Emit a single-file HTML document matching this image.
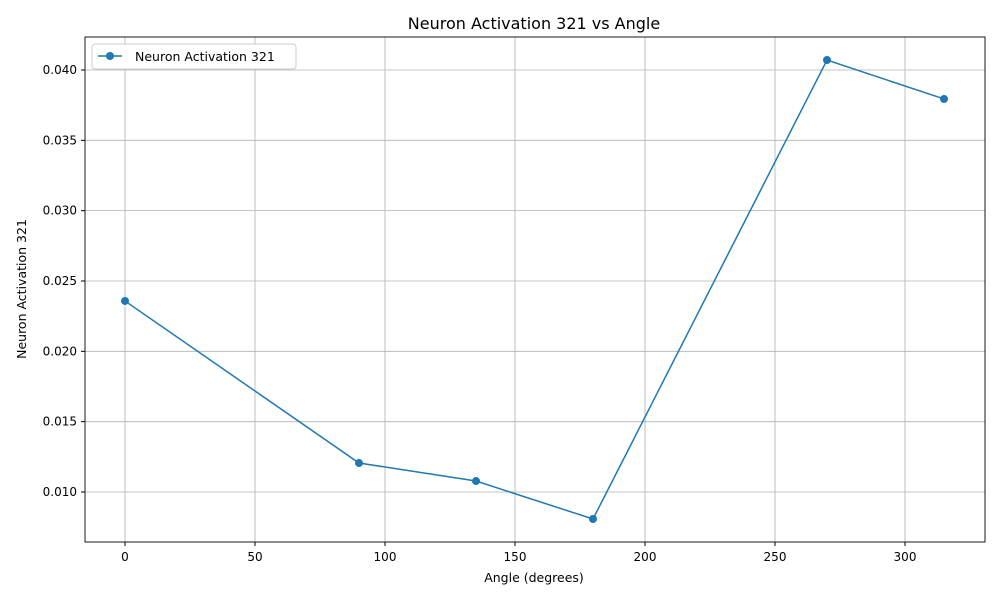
<!DOCTYPE html>
<html><head><meta charset="utf-8"><style>
body{margin:0;background:#fff;font-family:"Liberation Sans","DejaVu Sans",sans-serif}
svg text{font-family:"DejaVu Sans","Liberation Sans",sans-serif}
</style></head><body>
<svg id="chart" width="1000" height="600" xmlns="http://www.w3.org/2000/svg">
<rect width="1000" height="600" fill="#fff"/>
<text x="534" y="29" font-size="16" text-anchor="middle">Neuron Activation 321 vs Angle</text>
<text x="534" y="582" font-size="12.5" text-anchor="middle">Angle (degrees)</text>
<text transform="translate(26,289) rotate(-90)" font-size="12.5" text-anchor="middle">Neuron Activation 321</text>
<g id="grid"></g><g id="ticks"></g><g id="series"></g>
<rect x="85" y="37" width="900" height="505" fill="none" stroke="#000" stroke-width="0.9"/>
<g>
<rect x="92" y="44" width="204" height="25" rx="3" fill="#fff" stroke="#ccc"/>
<line x1="98" y1="56" x2="122" y2="56" stroke="#1f77b4" stroke-width="1.5"/>
<circle cx="110" cy="56" r="4" fill="#1f77b4"/>
<text x="135" y="61" font-size="12.5">Neuron Activation 321</text>
</g>
</svg>
<script>
const angles=[0,90,135,180,270,315];
const activations=[0.02358,0.01206,0.01078,0.00808,0.04071,0.03794];
const xTicks=[0,50,100,150,200,250,300];
const yTicks=[0.010,0.015,0.020,0.025,0.030,0.035,0.040];
const yLabels=["0.010","0.015","0.020","0.025","0.030","0.035","0.040"];
const NS="http://www.w3.org/2000/svg";
function xs(v){return 125+v*2.6;}
function ys(v){return 492-(v-0.010)*14067;}
const grid=document.getElementById('grid'),ticks=document.getElementById('ticks'),series=document.getElementById('series');
function mk(tag,attrs,parent){const e=document.createElementNS(NS,tag);for(const k in attrs)e.setAttribute(k,attrs[k]);parent.appendChild(e);return e;}
xTicks.forEach(t=>{const x=xs(t);
const g=mk('line',{x1:x,x2:x,y1:37,y2:542,stroke:'#b0b0b0','stroke-width':0.8},grid);


mk('line',{x1:x,x2:x,y1:542,y2:546,stroke:'#000'},ticks);
const l=mk('text',{x:x,y:561,'font-size':12,'text-anchor':'middle'},ticks);l.textContent=t;

});
yTicks.forEach((t,i)=>{const y=ys(t);
const g=mk('line',{x1:85,x2:985,y1:y,y2:y,stroke:'#b0b0b0','stroke-width':0.8},grid);


mk('line',{x1:81,x2:85,y1:y,y2:y,stroke:'#000'},ticks);
const l=mk('text',{x:77,y:y+4,'font-size':12,'text-anchor':'end'},ticks);l.textContent=yLabels[i];

});
const pl=mk('polyline',{points:angles.map((a,i)=>xs(a)+','+ys(activations[i])).join(' '),fill:'none',stroke:'#1f77b4','stroke-width':1.5},series);


angles.forEach((a,i)=>{const c=mk('circle',{cx:xs(a),cy:ys(activations[i]),r:4,fill:'#1f77b4'},series);

});
</script>
</body></html>
